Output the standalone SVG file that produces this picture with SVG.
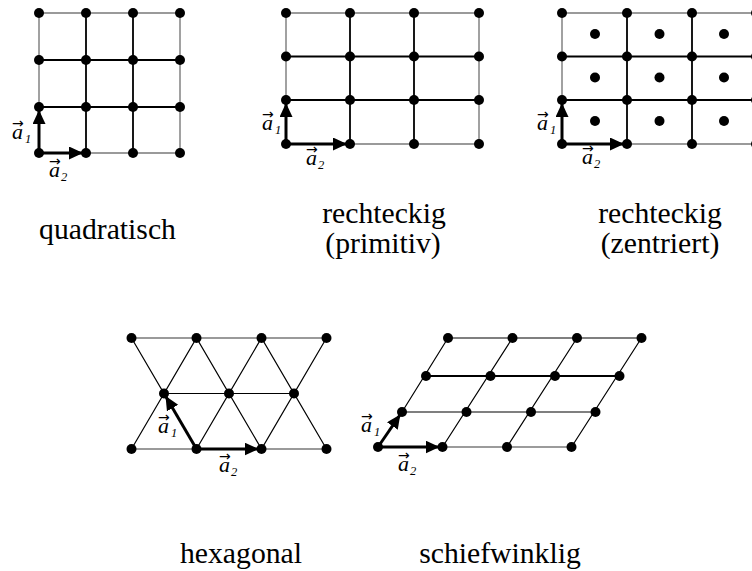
<svg xmlns="http://www.w3.org/2000/svg" width="752" height="571" viewBox="0 0 752 571">
<style>
.bg{fill:#fff}
.outer{stroke:#7a7a7a;stroke-width:1.4;fill:none}
.inner{stroke:#000;stroke-width:1.8;fill:none}
.thin{stroke:#000;stroke-width:1.2;fill:none}
.vec{stroke:#000;stroke-width:3;fill:none;marker-end:url(#ah)}
.dots circle{fill:#000}
.cap{font-family:"Liberation Serif","Times New Roman",serif;font-size:29.7px;fill:#000;text-anchor:middle}
.va{font-family:"Liberation Serif","Times New Roman",serif;font-style:italic;font-size:22px;fill:#000}
.vs{font-size:12.5px}
.vr{font-family:"DejaVu Sans",sans-serif;font-style:normal;font-size:14px}
</style>
<defs>
<marker id="ah" markerUnits="userSpaceOnUse" markerWidth="15" markerHeight="14" refX="14" refY="6.5" orient="auto">
<path d="M0,0 L14,6.5 L0,13 z" fill="#000"/>
</marker>
</defs>
<rect class="bg" x="0" y="0" width="752" height="571"/>

<g id="quadratisch">
<g id="quadratisch-connectors">
<path class="outer" d="M39,107 V13 H180 V153 H86"/>
<path class="inner" d="M86,13 V153 M133,13 V153 M39,60 H180 M39,107 H180"/>
<path class="vec" d="M39,153 V110"/>
<path class="vec" d="M39,153 H83"/>
</g>
<g class="dots">
<circle cx="39" cy="13" r="5"/><circle cx="86" cy="13" r="5"/><circle cx="133" cy="13" r="5"/><circle cx="180" cy="13" r="5"/>
<circle cx="39" cy="60" r="5"/><circle cx="86" cy="60" r="5"/><circle cx="133" cy="60" r="5"/><circle cx="180" cy="60" r="5"/>
<circle cx="39" cy="107" r="5"/><circle cx="86" cy="107" r="5"/><circle cx="133" cy="107" r="5"/><circle cx="180" cy="107" r="5"/>
<circle cx="39" cy="153" r="5"/><circle cx="86" cy="153" r="5"/><circle cx="133" cy="153" r="5"/><circle cx="180" cy="153" r="5"/>
</g>
<text class="va"><tspan class="vr" x="12" y="128">→</tspan><tspan x="12" y="139">a</tspan><tspan class="vs" x="25" y="143">1</tspan></text>
<text class="va"><tspan class="vr" x="49" y="166">→</tspan><tspan x="49" y="177">a</tspan><tspan class="vs" x="61" y="181">2</tspan></text>
<text class="cap" x="107.5" y="239">quadratisch</text>
</g>

<g id="rechteckig-primitiv">
<g id="rechteckig-primitiv-connectors">
<path class="outer" d="M286,100 V13 H479 V144 H350"/>
<path class="inner" d="M350,13 V144 M414,13 V144 M286,56.5 H479 M286,100 H479"/>
<path class="vec" d="M286,144 V103"/>
<path class="vec" d="M286,144 H347"/>
</g>
<g class="dots">
<circle cx="286" cy="13" r="5"/><circle cx="350" cy="13" r="5"/><circle cx="414" cy="13" r="5"/><circle cx="479" cy="13" r="5"/>
<circle cx="286" cy="56.5" r="5"/><circle cx="350" cy="56.5" r="5"/><circle cx="414" cy="56.5" r="5"/><circle cx="479" cy="56.5" r="5"/>
<circle cx="286" cy="100" r="5"/><circle cx="350" cy="100" r="5"/><circle cx="414" cy="100" r="5"/><circle cx="479" cy="100" r="5"/>
<circle cx="286" cy="144" r="5"/><circle cx="350" cy="144" r="5"/><circle cx="414" cy="144" r="5"/><circle cx="479" cy="144" r="5"/>
</g>
<text class="va"><tspan class="vr" x="262" y="119">→</tspan><tspan x="262" y="130">a</tspan><tspan class="vs" x="275" y="134">1</tspan></text>
<text class="va"><tspan class="vr" x="306" y="154">→</tspan><tspan x="306" y="165">a</tspan><tspan class="vs" x="318" y="169">2</tspan></text>
<text class="cap" x="384" y="223">rechteckig</text>
<text class="cap" x="383" y="253">(primitiv)</text>
</g>

<g id="rechteckig-zentriert">
<g id="rechteckig-zentriert-connectors">
<path class="outer" d="M562,100 V13 H752 M627,144 H752"/>
<path class="inner" d="M627,13 V144 M692,13 V144 M562,56.5 H752 M562,100 H752"/>
<path class="vec" d="M562,144 V103"/>
<path class="vec" d="M562,144 H624"/>
</g>
<g class="dots">
<circle cx="562" cy="13" r="5"/><circle cx="627" cy="13" r="5"/><circle cx="692" cy="13" r="5"/><circle cx="756" cy="13" r="5"/>
<circle cx="562" cy="56.5" r="5"/><circle cx="627" cy="56.5" r="5"/><circle cx="692" cy="56.5" r="5"/><circle cx="756" cy="56.5" r="5"/>
<circle cx="562" cy="100" r="5"/><circle cx="627" cy="100" r="5"/><circle cx="692" cy="100" r="5"/><circle cx="756" cy="100" r="5"/>
<circle cx="562" cy="144" r="5"/><circle cx="627" cy="144" r="5"/><circle cx="692" cy="144" r="5"/><circle cx="756" cy="144" r="5"/>
<circle cx="595" cy="34" r="5"/><circle cx="659.5" cy="34" r="5"/><circle cx="724" cy="34" r="5"/>
<circle cx="595" cy="77.5" r="5"/><circle cx="659.5" cy="77.5" r="5"/><circle cx="724" cy="77.5" r="5"/>
<circle cx="595" cy="121" r="5"/><circle cx="659.5" cy="121" r="5"/><circle cx="724" cy="121" r="5"/>
</g>
<text class="va"><tspan class="vr" x="537" y="119">→</tspan><tspan x="537" y="130">a</tspan><tspan class="vs" x="550" y="134">1</tspan></text>
<text class="va"><tspan class="vr" x="582" y="153">→</tspan><tspan x="582" y="164">a</tspan><tspan class="vs" x="594" y="168">2</tspan></text>
<text class="cap" x="660" y="223">rechteckig</text>
<text class="cap" x="660" y="253">(zentriert)</text>
</g>

<g id="hexagonal">
<g id="hexagonal-connectors">
<path class="outer" d="M131.5,338 H326.5 M131.5,449 H196.5 M261.5,449 H326.5"/>
<path class="thin" d="M164,393.5 H294 M131.5,338 L164,393.5 L196.5,338 L229,393.5 L261.5,338 L294,393.5 L326.5,338 M131.5,449 L164,393.5 M196.5,449 L229,393.5 L261.5,449 L294,393.5 L326.5,449"/>
<path class="vec" d="M196.5,449 L165.5,396"/>
<path class="vec" d="M196.5,449 H258.5"/>
</g>
<g class="dots">
<circle cx="131.5" cy="338" r="5"/><circle cx="196.5" cy="338" r="5"/><circle cx="261.5" cy="338" r="5"/><circle cx="326.5" cy="338" r="5"/>
<circle cx="164" cy="393.5" r="5"/><circle cx="229" cy="393.5" r="5"/><circle cx="294" cy="393.5" r="5"/>
<circle cx="131.5" cy="449" r="5"/><circle cx="196.5" cy="449" r="5"/><circle cx="261.5" cy="449" r="5"/><circle cx="326.5" cy="449" r="5"/>
</g>
<text class="va"><tspan class="vr" x="158" y="422">→</tspan><tspan x="158" y="433">a</tspan><tspan class="vs" x="171" y="437">1</tspan></text>
<text class="va"><tspan class="vr" x="219" y="461">→</tspan><tspan x="219" y="472">a</tspan><tspan class="vs" x="231" y="476">2</tspan></text>
<text class="cap" x="241" y="563">hexagonal</text>
</g>

<g id="schiefwinklig">
<g id="schiefwinklig-connectors">
<path class="outer" d="M442.5,447 H571.5"/>
<path class="thin" d="M448,338 H641.5 M402,412 H595.5 M402,412 L448,338 M442.5,447 L512.5,338 M507,447 L577,338 M571.5,447 L641.5,338"/>
<path class="inner" d="M426,376 H619.5"/>
<path class="vec" d="M378,447 L400.3,414.5"/>
<path class="vec" d="M378,447 H439.5"/>
</g>
<g class="dots">
<circle cx="448" cy="338" r="5"/><circle cx="512.5" cy="338" r="5"/><circle cx="577" cy="338" r="5"/><circle cx="641.5" cy="338" r="5"/>
<circle cx="426" cy="376" r="5"/><circle cx="490.5" cy="376" r="5"/><circle cx="555" cy="376" r="5"/><circle cx="619.5" cy="376" r="5"/>
<circle cx="402" cy="412" r="5"/><circle cx="466.5" cy="412" r="5"/><circle cx="531" cy="412" r="5"/><circle cx="595.5" cy="412" r="5"/>
<circle cx="378" cy="447" r="5"/><circle cx="442.5" cy="447" r="5"/><circle cx="507" cy="447" r="5"/><circle cx="571.5" cy="447" r="5"/>
</g>
<text class="va"><tspan class="vr" x="361" y="421">→</tspan><tspan x="361" y="432">a</tspan><tspan class="vs" x="374" y="436">1</tspan></text>
<text class="va"><tspan class="vr" x="398" y="460">→</tspan><tspan x="398" y="471">a</tspan><tspan class="vs" x="410" y="475">2</tspan></text>
<text class="cap" x="500" y="563">schiefwinklig</text>
</g>
</svg>
